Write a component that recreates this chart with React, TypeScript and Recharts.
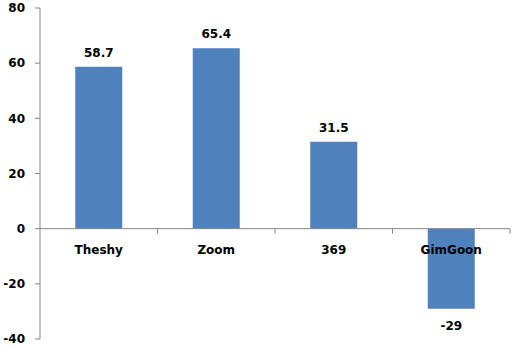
import { BarChart, Bar, XAxis, YAxis, ReferenceLine, LabelList } from 'recharts';

const players = ['Theshy', 'Zoom', '369', 'GimGoon'];
const scores = [58.7, 65.4, 31.5, -29];
const yTicks = [-40, -20, 0, 20, 40, 60, 80];

const data = players.map((name, i) => ({ name, score: scores[i] }));

const AXIS = '#868686';
const FONT = { fontFamily: '"DejaVu Sans", sans-serif', fontWeight: 700, fontSize: 12, fill: '#000' };

function boxOf(props: any) {
  const vb = props.viewBox ?? props;
  return { x: Number(vb.x), y: Number(vb.y), width: Number(vb.width), height: Number(vb.height) };
}

// category name sits just under the zero line, plus a small tick at the band edge
function CategoryLabel(props: any) {
  const { x, y, width, height } = boxOf(props);
  const value = props.value;
  const idx = props.index ?? players.indexOf(value);
  const v = scores[idx] ?? 0;
  const zero = v >= 0 ? Math.max(y, y + height) : Math.min(y, y + height);
  const cx = x + width / 2;
  const half = (width / 0.4) / 2;
  return (
    <g>
      <line x1={cx + half} x2={cx + half} y1={zero} y2={zero + 5} stroke={AXIS} />
      <text x={cx} y={zero + 25} textAnchor="middle" style={FONT}>{value}</text>
    </g>
  );
}

function ValueLabel(props: any) {
  const { x, y, width, height } = boxOf(props);
  const v = Number(props.value);
  const cx = x + width / 2;
  const top = Math.min(y, y + height);
  const bottom = Math.max(y, y + height);
  const ty = v >= 0 ? top - 10 : bottom + 21;
  return <text x={cx} y={ty} textAnchor="middle" style={FONT}>{v}</text>;
}

export default function App() {
  return (
    <div style={{ position: 'absolute', left: 0, top: 0, background: '#fff' }}>
      <BarChart width={512} height={347} data={data} barCategoryGap="30%"
        margin={{ top: 8, right: 2, bottom: 8, left: 0 }}>
        <XAxis dataKey="name" hide />
        <YAxis domain={[-40, 80]} ticks={yTicks} width={40} interval={0}
          axisLine={{ stroke: AXIS }} tickLine={{ stroke: AXIS }} tickSize={5} tickMargin={10}
          tick={FONT} />
        <ReferenceLine y={0} stroke={AXIS} />
        <Bar dataKey="score" fill="#4F81BD" isAnimationActive={false}>
          <LabelList dataKey="score" content={ValueLabel} />
          <LabelList dataKey="name" content={CategoryLabel} />
        </Bar>
      </BarChart>
    </div>
  );
}
